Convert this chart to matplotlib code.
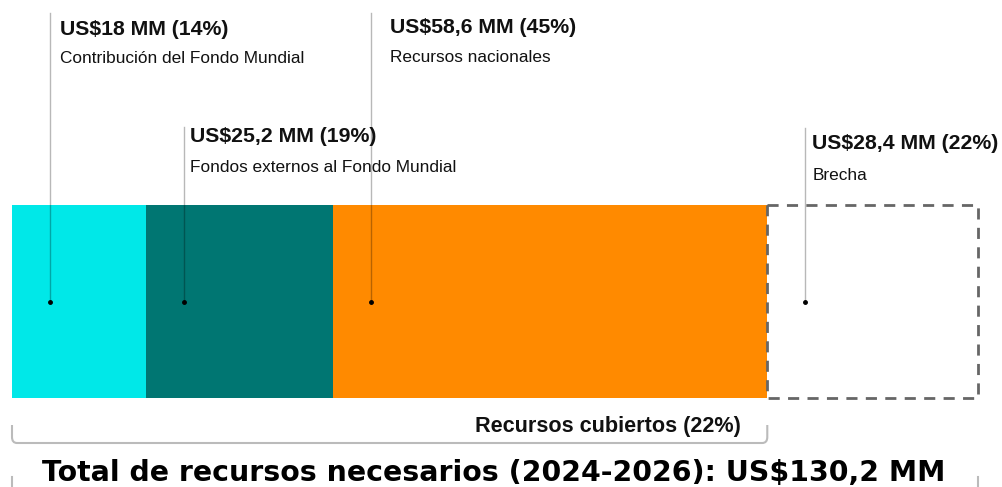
import matplotlib
matplotlib.use("Agg")
import matplotlib.pyplot as plt
from matplotlib.patches import Rectangle, PathPatch
from matplotlib.path import Path

# data
values = [18.0, 25.2, 58.6, 28.4]
pcts = [14, 19, 45, 22]
amount_labels = ["US$18 MM", "US$25,2 MM", "US$58,6 MM", "US$28,4 MM"]
names = ["Contribución del Fondo Mundial", "Fondos externos al Fondo Mundial",
         "Recursos nacionales", "Brecha"]
colors = ["#00E8E8", "#007672", "#FF8A00", "none"]
covered_pct = 22
total_label = "Total de recursos necesarios (2024-2026): US$130,2 MM"

total = sum(values)
W, H = 1002, 487
left_px, right_px = 12, 978
scale = total / (right_px - left_px)  # data units per pixel

fig = plt.figure(figsize=(W / 100, H / 100), dpi=100)
ax = fig.add_axes([0, 0, 1, 1])
ax.set_xlim(-left_px * scale, (W - left_px) * scale)
ax.set_ylim(H, 0)
ax.axis("off")

font = "Liberation Sans"

bar_y, bar_h = 301.5, 193
starts = [sum(values[:i]) for i in range(len(values))]
for i, (v, s) in enumerate(zip(values, starts)):
    if colors[i] != "none":
        ax.barh(bar_y, v, left=s, height=bar_h, color=colors[i], edgecolor="none")
    else:
        ax.add_patch(Rectangle((s, bar_y - bar_h / 2), v, bar_h, fill=False,
                               edgecolor="#666666", lw=2, linestyle=(0, (4, 3))))

# leader lines and labels
line_top = [13, 127, 13, 128]
head_base = [35, 142, 33, 149]
name_base = [63, 172, 62, 180]
text_off = [10, 6, 19, 7]
dot_off = 38 * scale
for i, s in enumerate(starts):
    x = s + dot_off
    ax.plot([x, x], [line_top[i], bar_y], color="black", lw=1, alpha=0.28)
    ax.plot(x, bar_y, "o", color="black", ms=2.5)
    tx = x + text_off[i] * scale
    ax.text(tx, head_base[i], f"{amount_labels[i]} ({pcts[i]}%)", fontsize=15.3,
            fontweight="bold", family=font, va="baseline", ha="left", color="#111111")
    ax.text(tx, name_base[i], names[i], fontsize=12.4, family=font,
            va="baseline", ha="left", color="#111111")

# bracket under covered resources
cov_end = sum(values[:3])
r = 5 * scale
verts = [(0, 425), (0, 437), (0, 443), (r, 443), (cov_end - r, 443),
         (cov_end, 443), (cov_end, 437), (cov_end, 425)]
codes = [Path.MOVETO, Path.LINETO, Path.CURVE3, Path.CURVE3, Path.LINETO,
         Path.CURVE3, Path.CURVE3, Path.LINETO]
ax.add_patch(PathPatch(Path(verts, codes), fill=False, edgecolor="#BBBBBB", lw=1.5))
ax.text(cov_end - 26 * scale, 432, f"Recursos cubiertos ({covered_pct}%)", fontsize=15.6,
        fontweight="bold", family=font, ha="right", va="baseline", color="#111111")

# total
ax.plot([0, 0], [477, 487], color="#BBBBBB", lw=1.5)
ax.plot([total, total], [477, 487], color="#BBBBBB", lw=1.5)
ax.text((493.5 - left_px) * scale, 481, total_label, fontsize=20.4, fontweight="heavy",
        family="DejaVu Sans", ha="center", va="baseline", color="black")

fig.savefig("out.png", dpi=100)
